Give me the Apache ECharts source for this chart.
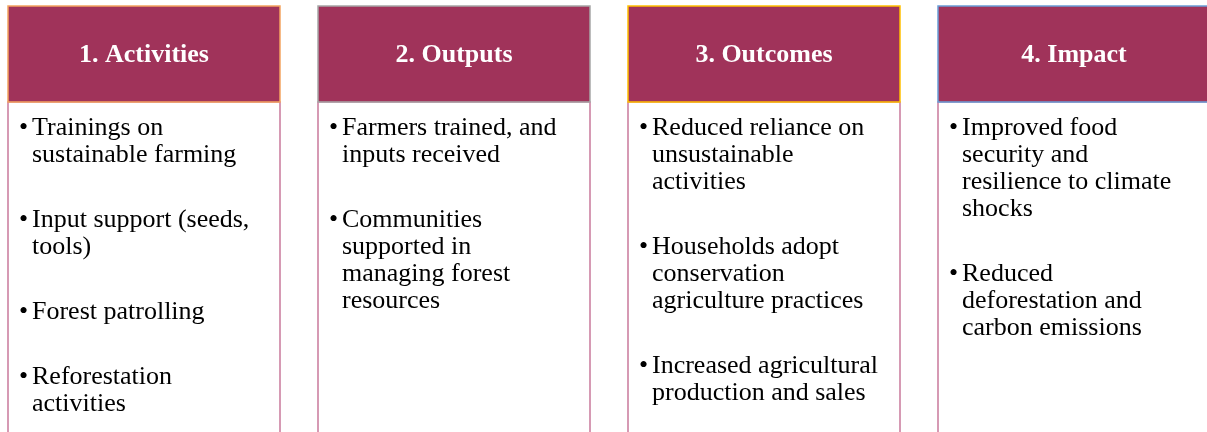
<!DOCTYPE html>
<html>
<head>
<meta charset="utf-8">
<script src="https://cdn.jsdelivr.net/npm/echarts@6/dist/echarts.min.js"></script>
<style>
  html, body { margin: 0; padding: 0; background: #fff; }
  #chart { width: 1207px; height: 432px; }
</style>
</head>
<body>
<div id="chart"></div>
<script>
// column titles
let titles = ['1. Activities', '2. Outputs', '3. Outcomes', '4. Impact'];

// bullet items per column (line breaks as in the slide)
let activities = ['Trainings on\nsustainable farming', 'Input support (seeds,\ntools)', 'Forest patrolling', 'Reforestation\nactivities'];
let outputs = ['Farmers trained, and\ninputs received', 'Communities\nsupported in\nmanaging forest\nresources'];
let outcomes = ['Reduced reliance on\nunsustainable\nactivities', 'Households adopt\nconservation\nagriculture practices', 'Increased agricultural\nproduction and sales'];
let impact = ['Improved food\nsecurity and\nresilience to climate\nshocks', 'Reduced\ndeforestation and\ncarbon emissions'];

let items = [activities, outputs, outcomes, impact];
let headerBorders = ['#F4A460', '#A6A6A6', '#FFC000', '#6A9FD8'];

let myChart = echarts.init(document.getElementById('chart'));

let font = '"Liberation Serif", "Times New Roman", serif';

function renderItem(params, api) {
    let i = api.value(0);
    let c = api.coord([i, 0]);
    let boxW = api.size([1, 0])[0] * 272 / 310;
    let left = c[0] - boxW / 2;
    let top = api.coord([i, 6])[1];
    let headBottom = api.coord([i, 102])[1];
    let bottom = api.coord([i, 445])[1];
    let children = [];

    children.push({
        type: 'rect',
        shape: { x: left, y: headBottom, width: boxW, height: bottom - headBottom },
        style: { fill: '#fff', stroke: '#C97A9C', lineWidth: 1.5 }
    });
    children.push({
        type: 'rect',
        shape: { x: left, y: top, width: boxW, height: headBottom - top },
        style: { fill: '#A0335A', stroke: headerBorders[i], lineWidth: 1.5 }
    });
    children.push({
        type: 'text',
        style: {
            text: titles[i], x: c[0], y: (top + headBottom) / 2 + 1,
            align: 'center', verticalAlign: 'middle',
            font: 'bold 26px ' + font, fill: '#fff'
        }
    });

    let lineH = 27;
    let y = 128;
    items[i].forEach(function (t) {
        let n = t.split('\n').length;
        let py = api.coord([i, y])[1];
        children.push({
            type: 'text',
            style: { text: '\u2022', x: left + 11, y: py - lineH / 2, verticalAlign: 'top',
                     lineHeight: lineH, font: '26px ' + font, fill: '#000' }
        });
        children.push({
            type: 'text',
            style: { text: t, x: left + 24, y: py - lineH / 2, verticalAlign: 'top',
                     lineHeight: lineH, font: '26px ' + font, fill: '#000' }
        });
        y += n * lineH + 38;
    });

    return { type: 'group', children: children };
}

option = {
    animation: false,
    grid: { left: 0, right: 0, top: 0, bottom: 0 },
    xAxis: { type: 'value', min: -144 / 310, max: 1063 / 310, show: false },
    yAxis: { type: 'value', min: 0, max: 432, inverse: true, show: false },
    series: [
        {
            type: 'custom',
            renderItem: renderItem,
            clip: false,
            encode: { x: 0 },
            data: titles.map(function (t, i) { return [i]; })
        }
    ]
};

myChart.setOption(option);
</script>
</body>
</html>
